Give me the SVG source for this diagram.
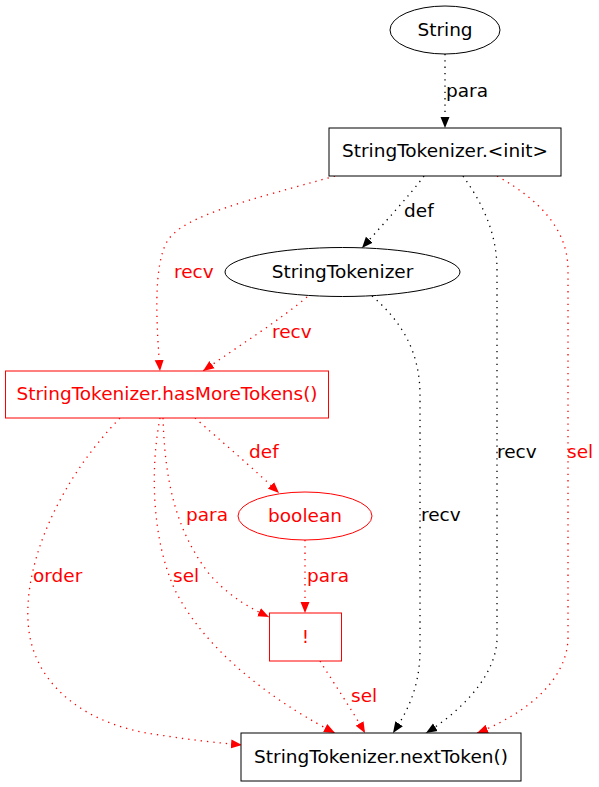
<svg xmlns="http://www.w3.org/2000/svg" width="599" height="787" viewBox="0 0 599 787">
<style>
text{font-family:"DejaVu Sans","Liberation Sans",sans-serif;font-size:18.5px}
.n{fill:#fff;stroke:#000;stroke-width:1}
.nr{fill:#fff;stroke:#f00;stroke-width:1}
.t{fill:#000;text-anchor:middle}
.tr{fill:#f00;text-anchor:middle}
.e{fill:none;stroke:#000;stroke-width:1.3;stroke-dasharray:1.3 5}
.er{fill:none;stroke:#f00;stroke-width:1.3;stroke-dasharray:1.3 5}
.l{fill:#000}
.lr{fill:#f00}
</style>
<defs>
<marker id="ab" markerUnits="userSpaceOnUse" markerWidth="11" markerHeight="10" refX="11" refY="5" orient="auto"><path d="M0,0.5 L11,5 L0,9.5 z" fill="#000"/></marker>
<marker id="ar" markerUnits="userSpaceOnUse" markerWidth="11" markerHeight="10" refX="11" refY="5" orient="auto"><path d="M0,0.5 L11,5 L0,9.5 z" fill="#f00"/></marker>
</defs>
<rect width="599" height="787" fill="#fff"/>
<g id="edges">
<path class="e" d="M445,54 L445,128" marker-end="url(#ab)"/>
<text class="l" x="446" y="97">para</text>
<path class="e" d="M424,176 C410,195 385,222 362,248" marker-end="url(#ab)"/>
<text class="l" x="404" y="217">def</text>
<path class="er" d="M335,176 C250,200 185,215 168,240 C152,265 157,330 160,371" marker-end="url(#ar)"/>
<text class="lr" x="174" y="278">recv</text>
<path class="er" d="M307,297 C280,320 240,345 203,371" marker-end="url(#ar)"/>
<text class="lr" x="272" y="338">recv</text>
<path class="e" d="M463,176 C480,200 497,230 497,270 L497,640 C495,680 455,715 426,733" marker-end="url(#ab)"/>
<text class="l" x="497" y="458">recv</text>
<path class="er" d="M497,176 C540,200 568,230 568,270 L568,640 C565,690 510,720 477,733" marker-end="url(#ar)"/>
<text class="lr" x="567" y="458">sel</text>
<path class="e" d="M372,296 C400,320 420,350 420,395 L420,650 C420,690 405,715 393,733" marker-end="url(#ab)"/>
<text class="l" x="421" y="521">recv</text>
<path class="er" d="M195,418 C220,440 255,470 279,493" marker-end="url(#ar)"/>
<text class="lr" x="249" y="458">def</text>
<path class="er" d="M163,418 C165,480 175,530 210,575 C230,597 250,608 269,617" marker-end="url(#ar)"/>
<text class="lr" x="186" y="521">para</text>
<path class="er" d="M160,418 C150,470 152,540 175,590 C210,660 290,710 335,733" marker-end="url(#ar)"/>
<text class="lr" x="173" y="582">sel</text>
<path class="er" d="M120,418 C60,480 25,560 28,620 C30,680 80,725 160,735 C190,740 220,743 242,745" marker-end="url(#ar)"/>
<text class="lr" x="33" y="582">order</text>
<path class="er" d="M305,540 L305,613" marker-end="url(#ar)"/>
<text class="lr" x="307" y="582">para</text>
<path class="er" d="M320,661 C335,685 352,710 365,733" marker-end="url(#ar)"/>
<text class="lr" x="351" y="702">sel</text>
</g>
<g id="String">
<ellipse class="n" cx="445" cy="30" rx="55" ry="24"/>
<text class="t" x="445" y="36">String</text>
</g>
<g id="init">
<rect class="n" x="329" y="128" width="232" height="48"/>
<text class="t" x="445" y="157">StringTokenizer.&lt;init&gt;</text>
</g>
<g id="StringTokenizer">
<ellipse class="n" cx="342.5" cy="272" rx="117.5" ry="24.5"/>
<text class="t" x="342.5" y="278">StringTokenizer</text>
</g>
<g id="hasMoreTokens">
<rect class="nr" x="5.5" y="371" width="323" height="47"/>
<text class="tr" x="167" y="400">StringTokenizer.hasMoreTokens()</text>
</g>
<g id="boolean">
<ellipse class="nr" cx="305" cy="516" rx="67" ry="24"/>
<text class="tr" x="305" y="522">boolean</text>
</g>
<g id="not">
<rect class="nr" x="269.5" y="613" width="72" height="48"/>
<text class="tr" x="305.5" y="643">!</text>
</g>
<g id="nextToken">
<rect class="n" x="241" y="733" width="280" height="48"/>
<text class="t" x="381" y="763">StringTokenizer.nextToken()</text>
</g>
</svg>
